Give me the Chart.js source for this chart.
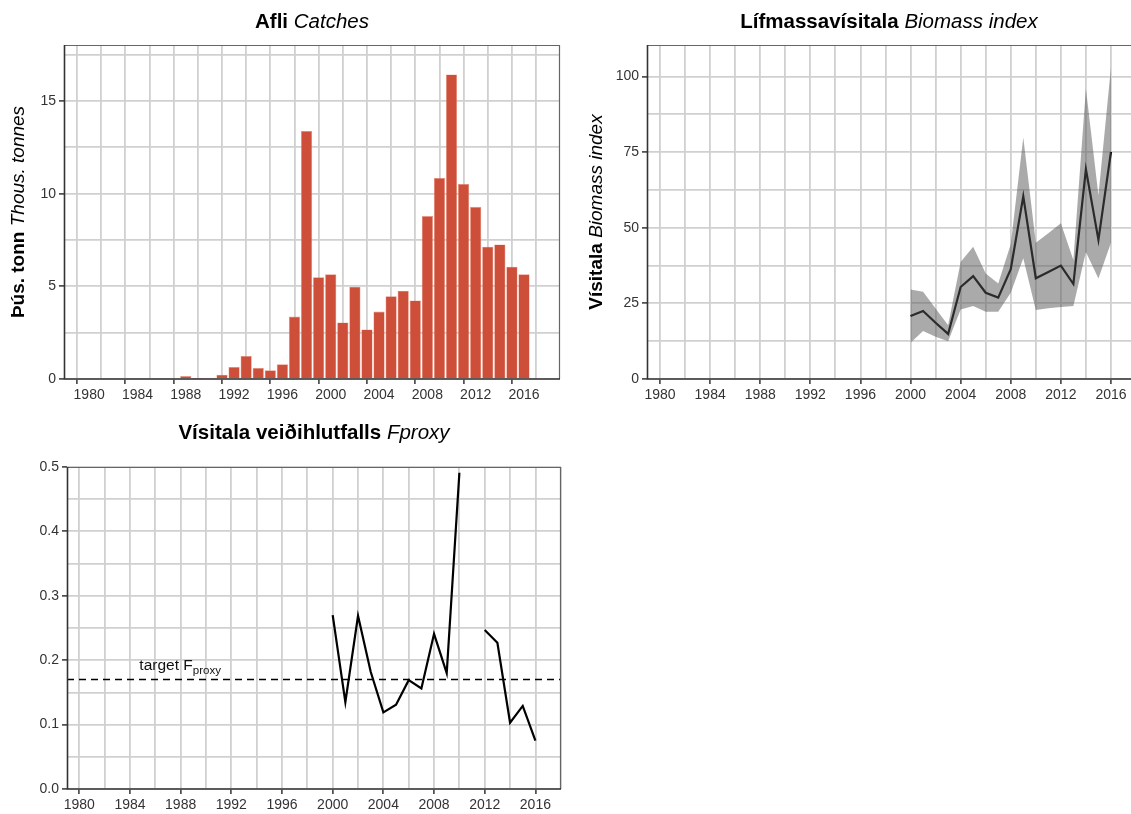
<!DOCTYPE html>
<html>
<head>
<meta charset="utf-8">
<script src="https://cdn.jsdelivr.net/npm/chart.js@4.4.0/dist/chart.umd.min.js"></script>
<style>
  body { margin: 0; background: #fff; width: 1131px; height: 814px; overflow: hidden; position: relative; }
  canvas { position: absolute; }
  #c1 { left: 0; top: 0; }
  #c2 { left: 570px; top: 0; }
  #c3 { left: 0; top: 405px; }
</style>
</head>
<body>
<canvas id="c1" width="570" height="405"></canvas>
<canvas id="c2" width="561" height="405"></canvas>
<canvas id="c3" width="570" height="409"></canvas>
<script>
// Afli (catches), þús. tonn
const catchYears = [1988, 1989, 1990, 1991, 1992, 1993, 1994, 1995, 1996, 1997, 1998, 1999, 2000, 2001, 2002,
  2003, 2004, 2005, 2006, 2007, 2008, 2009, 2010, 2011, 2012, 2013, 2014, 2015, 2016];
const catches = [0.16, 0.02, 0.07, 0.23, 0.65, 1.24, 0.6, 0.47, 0.79, 3.37, 13.38, 5.49, 5.65, 3.05, 4.98,
  2.67, 3.64, 4.47, 4.76, 4.24, 8.79, 10.85, 16.43, 10.52, 9.29, 7.14, 7.26, 6.06, 5.65];

// Lífmassavísitala (survey biomass index) with band
const surveyYears = [2000, 2001, 2002, 2003, 2004, 2005, 2006, 2007, 2008, 2009, 2010, 2011, 2012, 2013, 2014, 2015, 2016];
const biomass = [20.8, 22.5, 18.6, 14.9, 30.4, 34.0, 28.5, 26.9, 36.3, 60.4, 33.3, 35.4, 37.5, 31.4, 69.3, 46.0, 75.1];
const biomassUpper = [29.6, 28.8, 23.3, 17.8, 38.7, 43.7, 34.9, 31.6, 44.5, 79.8, 45.0, 48.2, 51.5, 39.3, 95.9, 60.7, 103.0];
const biomassLower = [12.0, 15.9, 14.0, 12.5, 23.0, 24.1, 22.2, 22.2, 28.5, 39.9, 22.8, 23.4, 23.8, 24.1, 42.0, 33.2, 45.0];

// Vísitala veiðihlutfalls (Fproxy), 2011 missing
const fproxy = [0.270, 0.135, 0.269, 0.182, 0.119, 0.131, 0.169, 0.156, 0.241, 0.180, 0.491, null, 0.247, 0.227, 0.103, 0.129, 0.075];
const targetF = 0.17;

const FONT = "'Liberation Sans', Arial, Helvetica, sans-serif";
const GRID = '#d0d0d0';
const AXIS = '#333';

// draws a mix of bold / italic pieces centred on a point
function drawParts(ctx, parts, cx, cy, rot, size) {
  const fonts = parts.map(p => `${p[1]} ${size}px ${FONT}`);
  let total = 0;
  const widths = parts.map((p, i) => {
    ctx.font = fonts[i];
    const w = ctx.measureText(p[0]).width;
    total += w;
    return w;
  });
  ctx.save();
  ctx.translate(cx, cy);
  ctx.rotate(rot);
  ctx.textAlign = 'left';
  ctx.textBaseline = 'middle';
  let x = -total / 2;
  parts.forEach((p, i) => {
    ctx.font = fonts[i];
    ctx.fillText(p[0], x, 0);
    x += widths[i];
  });
  ctx.restore();
}

// titles: bold + italic in one line
const mixedTitles = {
  id: 'mixedTitles',
  afterDraw(chart, args, opts) {
    const ctx = chart.ctx;
    const a = chart.chartArea;
    ctx.save();
    ctx.fillStyle = '#000';
    if (opts.title) drawParts(ctx, opts.title, (a.left + a.right) / 2, opts.titleY, 0, 20.5);
    if (opts.yTitle) drawParts(ctx, opts.yTitle, opts.yTitleX, (a.top + a.bottom) / 2, -Math.PI / 2, 19);
    ctx.restore();
  }
};

// panel box, drawn on top of the marks
const frame = {
  id: 'frame',
  afterDatasetsDraw(chart, args, opts) {
    const { ctx, chartArea: a } = chart;
    ctx.save();
    ctx.strokeStyle = '#666';
    ctx.lineWidth = 1.2;
    ctx.beginPath();
    ctx.moveTo(a.left, a.top + 0.5);
    ctx.lineTo(a.right, a.top + 0.5);
    if (opts.right !== false) {
      ctx.moveTo(a.right - 0.5, a.top);
      ctx.lineTo(a.right - 0.5, a.bottom);
    }
    ctx.stroke();
    ctx.strokeStyle = AXIS;
    ctx.lineWidth = 1.6;
    ctx.beginPath();
    ctx.moveTo(a.left + 0.5, a.top);
    ctx.lineTo(a.left + 0.5, a.bottom);
    ctx.lineTo(a.right, a.bottom);
    ctx.stroke();
    ctx.restore();
  }
};

// "target Fproxy" label next to the dashed line
const targetLabel = {
  id: 'targetLabel',
  afterDatasetsDraw(chart, args, opts) {
    if (!opts.text) return;
    const ctx = chart.ctx;
    const x = chart.scales.x.getPixelForValue(opts.x);
    const y = chart.scales.y.getPixelForValue(opts.y);
    ctx.save();
    ctx.fillStyle = '#111';
    ctx.textBaseline = 'alphabetic';
    ctx.textAlign = 'left';
    ctx.font = `15.5px ${FONT}`;
    ctx.fillText(opts.text, x, y);
    const w = ctx.measureText(opts.text).width;
    ctx.font = `11.5px ${FONT}`;
    ctx.fillText(opts.sub, x + w, y + 4);
    ctx.restore();
  }
};

function xScale(min, max, height) {
  return {
    type: 'linear',
    min: min,
    max: max,
    afterFit: s => { s.height = height; },
    ticks: {
      stepSize: 2, autoSkip: false, maxRotation: 0, minRotation: 0, includeBounds: false,
      color: AXIS, font: { family: FONT, size: 14 }, padding: 3,
      callback: v => (v % 4 === 0 ? String(v) : '')
    },
    grid: {
      color: GRID, lineWidth: 1.8, tickLength: 5, tickWidth: 1.5,
      tickColor: c => (c.tick && c.tick.value % 4 === 0 ? AXIS : 'rgba(0,0,0,0)')
    },
    border: { display: false }
  };
}

function yScale(min, max, step, isMajor, fmt, width) {
  return {
    type: 'linear',
    min: min,
    max: max,
    afterFit: s => { s.width = width; },
    ticks: {
      stepSize: step, autoSkip: false, includeBounds: false,
      color: AXIS, font: { family: FONT, size: 14 }, padding: 3,
      callback: v => (isMajor(v) ? fmt(v) : '')
    },
    grid: {
      color: GRID, lineWidth: 1.8, tickLength: 5, tickWidth: 1.5,
      tickColor: c => (c.tick && isMajor(c.tick.value) ? AXIS : 'rgba(0,0,0,0)')
    },
    border: { display: false }
  };
}

const common = {
  responsive: false,
  animation: false,
  events: [],
  plugins: { legend: { display: false }, tooltip: { enabled: false } }
};

// 1. Afli Catches
new Chart(document.getElementById('c1'), {
  type: 'bar',
  data: {
    datasets: [{
      data: catchYears.map((y, i) => ({ x: y, y: catches[i] })),
      backgroundColor: '#CD4F39',
      borderColor: 'rgba(236,150,132,1)',
      borderWidth: 0.6,
      borderSkipped: 'bottom',
      barPercentage: 0.93,
      categoryPercentage: 1.0
    }]
  },
  options: {
    ...common,
    layout: { padding: { top: 45, right: 10, left: 0, bottom: 0 } },
    scales: {
      x: xScale(1979.0, 2017.9, 26),
      y: yScale(0, 18.02, 2.5, v => v % 5 === 0, v => String(v), 64)
    },
    plugins: {
      ...common.plugins,
      mixedTitles: { title: [['Afli', 'bold'], [' Catches', 'italic']], titleY: 22,
        yTitle: [['Þús. tonn', 'bold'], [' Thous. tonnes', 'italic']], yTitleX: 19 },
      frame: {}
    }
  },
  plugins: [mixedTitles, frame]
});

// 2. Lífmassavísitala Biomass index
new Chart(document.getElementById('c2'), {
  type: 'line',
  data: {
    datasets: [
      {
        data: surveyYears.map((y, i) => ({ x: y, y: biomassUpper[i] })),
        borderWidth: 0, pointRadius: 0, fill: '+1',
        backgroundColor: 'rgba(85,85,85,0.5)', borderColor: 'rgba(0,0,0,0)'
      },
      {
        data: surveyYears.map((y, i) => ({ x: y, y: biomassLower[i] })),
        borderWidth: 0, pointRadius: 0, fill: false, borderColor: 'rgba(0,0,0,0)'
      },
      {
        data: surveyYears.map((y, i) => ({ x: y, y: biomass[i] })),
        borderColor: '#000', borderWidth: 2.2, pointRadius: 0, fill: false, tension: 0
      }
    ]
  },
  options: {
    ...common,
    layout: { padding: { top: 45, right: 0, left: 0, bottom: 0 } },
    scales: {
      x: xScale(1978.96, 2017.6, 26),
      y: yScale(0, 110.4, 12.5, v => v % 25 === 0, v => String(v), 77)
    },
    plugins: {
      ...common.plugins,
      mixedTitles: { title: [['Lífmassavísitala', 'bold'], [' Biomass index', 'italic']], titleY: 22,
        yTitle: [['Vísitala', 'bold'], [' Biomass index', 'italic']], yTitleX: 27 },
      frame: { right: false }
    }
  },
  plugins: [mixedTitles, frame]
});

// 3. Vísitala veiðihlutfalls Fproxy
const fMin = 1979.03, fMax = 2018.02;
new Chart(document.getElementById('c3'), {
  type: 'line',
  data: {
    datasets: [
      {
        data: surveyYears.map((y, i) => ({ x: y, y: fproxy[i] })),
        borderColor: '#000', borderWidth: 2.2, pointRadius: 0, fill: false, spanGaps: false, tension: 0
      },
      {
        data: [{ x: fMin, y: targetF }, { x: fMax, y: targetF }],
        borderColor: '#000', borderWidth: 1.5, borderDash: [7, 5], pointRadius: 0, fill: false
      }
    ]
  },
  options: {
    ...common,
    layout: { padding: { top: 62, right: 9, left: 0, bottom: 0 } },
    scales: {
      x: xScale(fMin, fMax, 25),
      y: yScale(0, 0.5, 0.05, v => Math.abs(v * 10 - Math.round(v * 10)) < 1e-6, v => v.toFixed(1), 67)
    },
    plugins: {
      ...common.plugins,
      mixedTitles: { title: [['Vísitala veiðihlutfalls', 'bold'], [' Fproxy', 'italic']], titleY: 28 },
      frame: {},
      targetLabel: { text: 'target F', sub: 'proxy', x: 1984.74, y: 0.185 }
    }
  },
  plugins: [mixedTitles, frame, targetLabel]
});
</script>
</body>
</html>
